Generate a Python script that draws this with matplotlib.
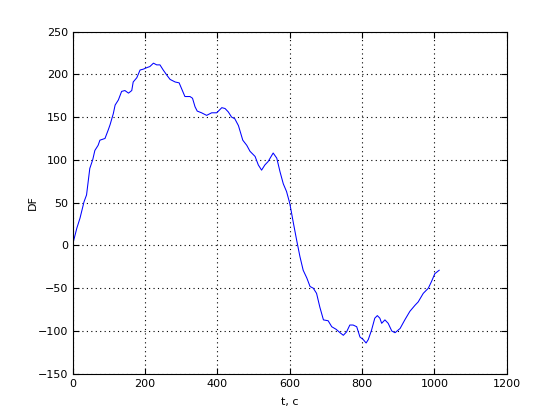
import matplotlib
matplotlib.use('Agg')
import matplotlib.pyplot as plt

# Values
t = [0, 5, 11, 20, 31, 38, 47, 55, 61, 70, 75, 89, 98, 103, 112, 117, 126, 135, 144, 154,
     163, 167, 177, 186, 195, 206, 213, 223, 232, 241, 250, 260, 269, 283, 294, 304, 310,
     324, 331, 338, 344, 356, 370, 384, 398, 412, 421, 430, 439, 448, 458, 470, 481, 490,
     504, 513, 522, 531, 540, 554, 564, 573, 582, 591, 600, 610, 619, 628, 637, 647, 656,
     665, 674, 683, 693, 706, 716, 728, 739, 748, 757, 766, 775, 785, 794, 803, 811, 817,
     826, 835, 842, 849, 854, 863, 872, 882, 891, 905, 918, 932, 946, 955, 969, 983, 992,
     1001, 1013]
df = [2, 10, 20, 32, 51, 59, 90, 100, 111, 117, 123, 125, 135, 141, 154, 164, 170, 180,
      181, 178, 181, 191, 196, 205, 206, 208, 209, 213, 211, 211, 205, 199, 194, 191, 190,
      180, 174, 174, 172, 162, 157, 155, 152, 155, 155, 161, 160, 156, 150, 148, 140, 123,
      117, 110, 104, 94, 88, 94, 98, 108, 102, 86, 72, 63, 49, 26, 6, -13, -29, -38, -48,
      -50, -56, -72, -87, -88, -95, -98, -102, -105, -101, -93, -93, -95, -107, -110, -114,
      -110, -99, -85, -82, -85, -91, -87, -91, -100, -102, -97, -87, -77, -70, -66, -56,
      -50, -42, -33, -29]

x_ticks = [0, 200, 400, 600, 800, 1000, 1200]
y_ticks = [-150, -100, -50, 0, 50, 100, 150, 200, 250]

plt.rcParams['font.family'] = 'DejaVu Sans'
fig = plt.figure(figsize=(5.6, 4.2), dpi=100)
ax = fig.add_axes([0.13, 0.11, 0.775, 0.815])

ax.plot(t, df, color='#0000ff', linewidth=0.75)

ax.set_xlim(0, 1200)
ax.set_ylim(-150, 250)
ax.set_xticks(x_ticks)
ax.set_yticks(y_ticks)
ax.tick_params(direction='in', length=4, labelsize=8, top=True, right=True)
ax.grid(True, color='black', linestyle=(0, (1, 3)), linewidth=0.8)
ax.set_xlabel('t, c', fontsize=8, labelpad=6)
ax.set_ylabel('DF', fontsize=8, labelpad=0)

fig.savefig('out.png', dpi=100)
